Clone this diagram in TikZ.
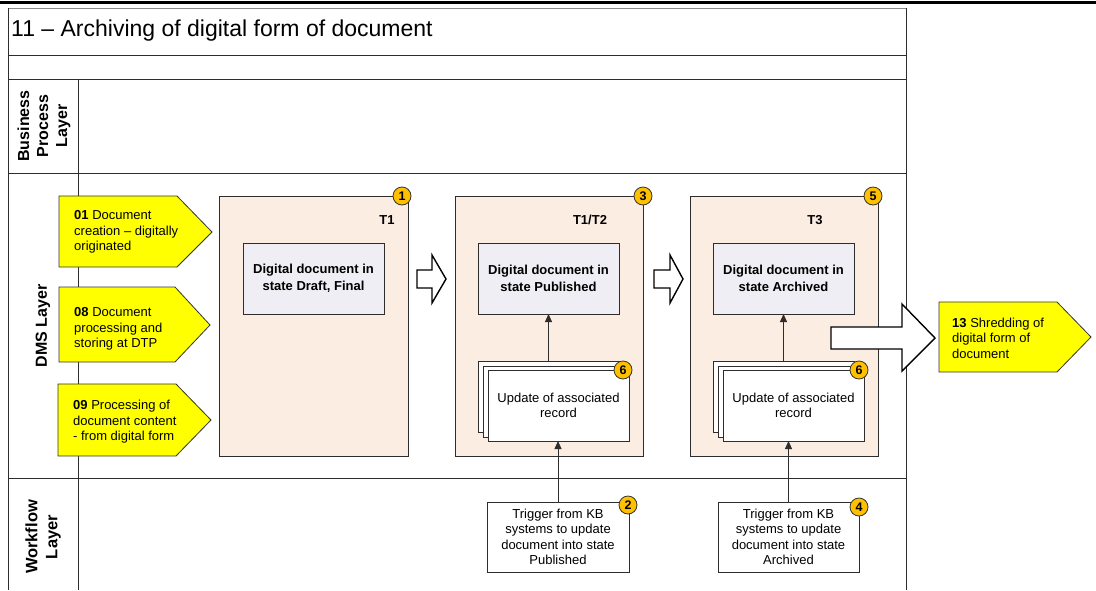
\documentclass[tikz,border=0pt]{standalone}
\usepackage{fontspec}
\setmainfont{Liberation Sans}
\usetikzlibrary{arrows.meta}
\definecolor{peach}{RGB}{252,237,227}
\definecolor{lilac}{RGB}{239,238,244}
\definecolor{sigyellow}{RGB}{255,255,0}
\definecolor{badge}{RGB}{255,192,0}
\definecolor{rule}{RGB}{45,45,45}
\tikzset{
  body/.style={font=\fontsize{13}{15.5}\selectfont},
  lanelabel/.style={rotate=90, align=center, font=\fontsize{16}{19}\selectfont\bfseries},
  stage/.style={draw=rule, fill=peach, line width=0.9pt, inner sep=0, outer sep=0},
  docbox/.style={draw=rule, fill=lilac, line width=0.9pt, inner sep=0, outer sep=0,
    minimum width=141pt, minimum height=71pt, align=center,
    font=\fontsize{13}{16.5}\selectfont\bfseries},
  sheet/.style={draw=rule, fill=white, line width=0.8pt, inner sep=0, outer sep=0,
    minimum width=141pt, minimum height=71pt, align=center, body},
  trigger/.style={draw=rule, fill=white, line width=0.8pt, inner sep=0, outer sep=0,
    minimum height=70pt, align=center, body},
  numbadge/.style={circle, draw=black!80, fill=badge, line width=0.8pt, inner sep=0,
    minimum size=18pt, font=\fontsize{12.5}{14}\selectfont\bfseries},
  signalshape/.style={draw=black!80, fill=sigyellow, line width=0.8pt},
  sigtext/.style={anchor=west, align=left, inner sep=0, body},
  hollow/.style={draw=black, fill=white, line width=1.4pt, line join=miter},
  link/.style={draw=rule, line width=0.8pt, -{Triangle[length=8pt,width=7pt]}},
  lane/.style={draw=rule, line width=1pt}
}
\begin{document}
\begin{tikzpicture}[x=1pt,y=-1pt]
\useasboundingbox (0,0) rectangle (1096,590);
\fill[white] (0,0) rectangle (1096,590);

% heavy rule along the top edge
\draw[line width=3pt] (0,2) -- (1096,2);

% swimlane frame
\draw[draw=black!45, line width=0.8pt] (8,8) -- (906,8);
\draw[lane] (8,8) -- (8,590);
\draw[lane] (906,8) -- (906,590);
\draw[lane] (8,55) -- (906,55);
\draw[lane] (8,79) -- (906,79);
\draw[lane] (8,173) -- (906,173);
\draw[lane] (8,478) -- (906,478);
\draw[lane] (78,79) -- (78,590);

\node[anchor=west, inner sep=0, font=\fontsize{23}{27}\selectfont] (title) at (11,31)
  {11 – Archiving of digital form of document};

\node[lanelabel] (bpl) at (44,126) {Business\\Process\\Layer};
\node[lanelabel] (dms) at (43,326) {DMS Layer};
\node[lanelabel, font=\fontsize{16.5}{20}\selectfont\bfseries] (wfl) at (43,537) {Workflow\\Layer};

% incoming process signals
\draw[signalshape] (59,196) -- (177,196) -- (212,232) -- (177,267) -- (59,267) -- cycle;
\node[sigtext] (p01) at (74,232) {\textbf{01} Document\\creation – digitally\\originated};
\draw[signalshape] (59,287) -- (175,287) -- (210,325) -- (175,362) -- (59,362) -- cycle;
\node[sigtext] (p08) at (74,329) {\textbf{08} Document\\processing and\\storing at DTP};
\draw[signalshape] (58,384) -- (176,384) -- (211,420) -- (176,456) -- (58,456) -- cycle;
\node[sigtext] (p09) at (73,422) {\textbf{09} Processing of\\document content\\- from digital form};

% stage containers
\node[stage, minimum width=189pt, minimum height=260pt] (st1) at (313.5,326) {};
\node[stage, minimum width=188pt, minimum height=260pt] (st2) at (549,326) {};
\node[stage, minimum width=188pt, minimum height=260pt] (st3) at (784,326) {};

\node[font=\fontsize{13}{15}\selectfont\bfseries] (t1) at (387,220) {T1};
\node[font=\fontsize{13}{15}\selectfont\bfseries] (t12) at (590,220) {T1/T2};
\node[font=\fontsize{13}{15}\selectfont\bfseries] (t3) at (815,220) {T3};

\node[docbox] (doc1) at (313.5,278.5) {Digital document in\\state Draft, Final};
\node[docbox] (doc2) at (548.5,278.5) {Digital document in\\state Published};
\node[docbox] (doc3) at (783.5,278.5) {Digital document in\\state Archived};

% record stacks
\node[sheet] (rec2a) at (548.5,396.5) {};
\node[sheet] (rec2b) at (553.5,401.5) {};
\node[sheet] (rec2) at (558.5,405.5) {Update of associated\\record};
\node[sheet] (rec3a) at (783.5,396.5) {};
\node[sheet] (rec3b) at (788.5,401.5) {};
\node[sheet] (rec3) at (793.5,405.5) {Update of associated\\record};

% workflow triggers
\node[trigger, minimum width=142pt] (trg2) at (558,537)
  {Trigger from KB\\systems to update\\document into state\\Published};
\node[trigger, minimum width=141pt] (trg4) at (788.5,537)
  {Trigger from KB\\systems to update\\document into state\\Archived};

% connectors
\draw[link] (rec2a.north) -- (doc2.south);
\draw[link] (rec3a.north) -- (doc3.south);
\draw[link] (trg2.north) -- (trg2.north |- rec2.south);
\draw[link] (trg4.north) -- (trg4.north |- rec3.south);

% transition arrows
\draw[hollow] (417,270) -- (432,270) -- (432,255) -- (446,279) -- (432,303) -- (432,288) -- (417,288) -- cycle;
\draw[hollow] (654,270) -- (670,270) -- (670,255) -- (683,279) -- (670,303) -- (670,288) -- (654,288) -- cycle;
\draw[hollow] (831,327) -- (902,327) -- (902,304) -- (935,338) -- (902,371) -- (902,349) -- (831,349) -- cycle;

% outgoing process signal
\draw[signalshape] (939,302) -- (1057,302) -- (1091,337) -- (1057,372) -- (939,372) -- cycle;
\node[sigtext] (p13) at (952,338) {\textbf{13} Shredding of\\digital form of\\document};

% step badges
\node[numbadge] (b1) at (402,196) {1};
\node[numbadge] (b3) at (643,196) {3};
\node[numbadge] (b5) at (873,196) {5};
\node[numbadge] (b6a) at (623,370) {6};
\node[numbadge] (b6b) at (859,370) {6};
\node[numbadge] (b2) at (628,505) {2};
\node[numbadge] (b4) at (859,507) {4};
\end{tikzpicture}
\end{document}
